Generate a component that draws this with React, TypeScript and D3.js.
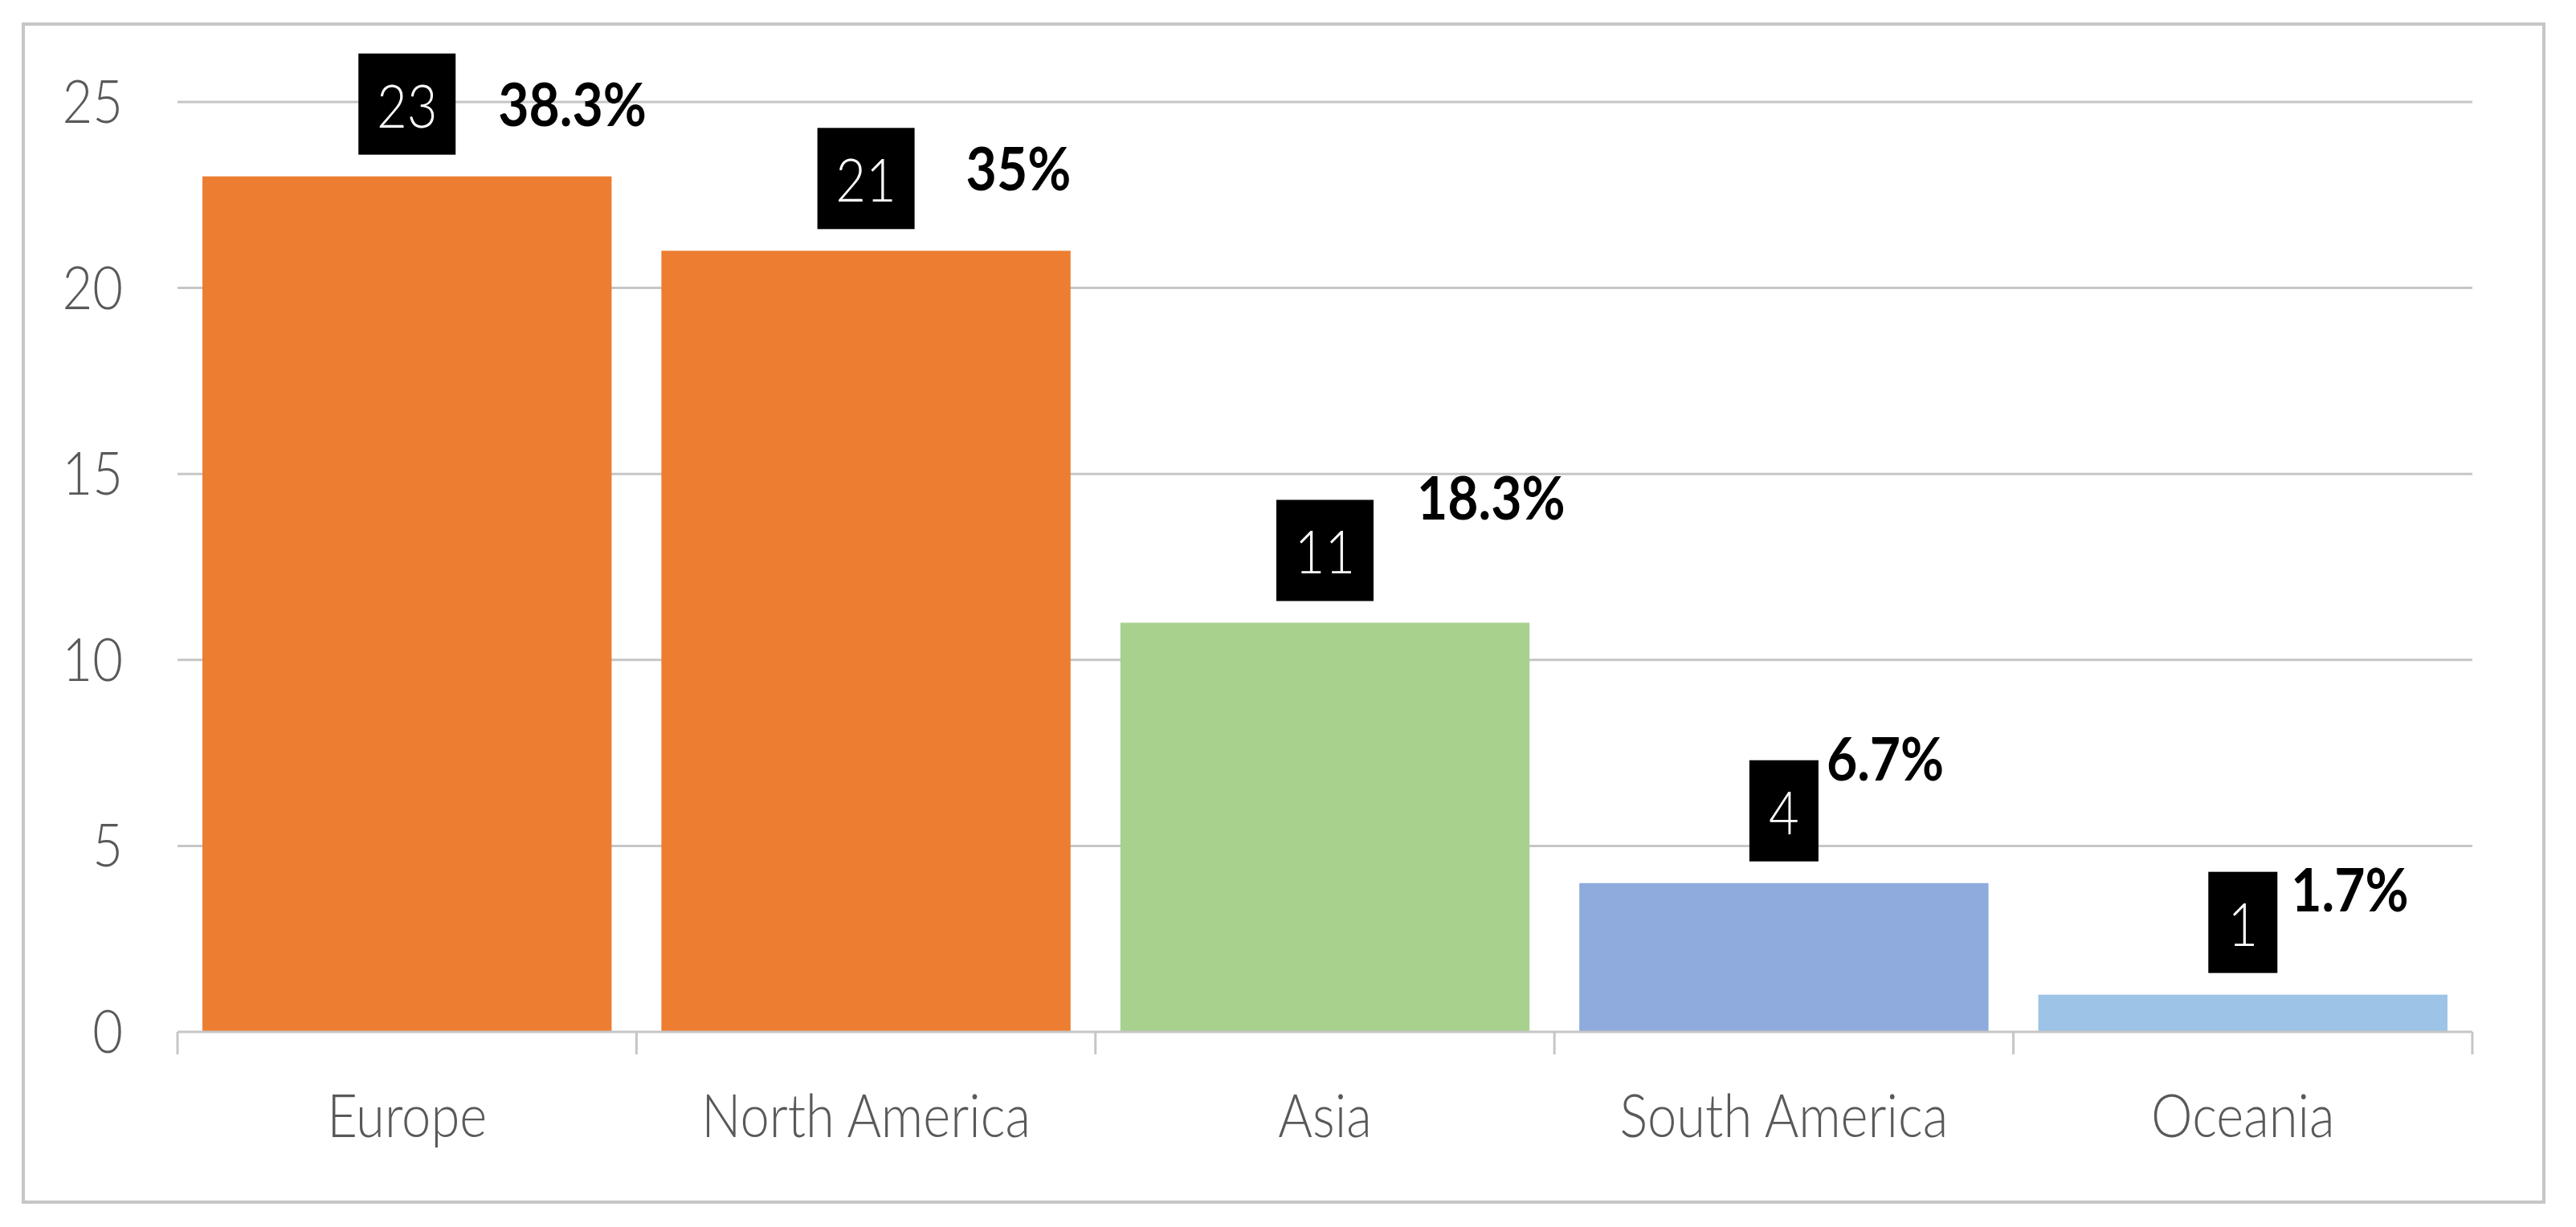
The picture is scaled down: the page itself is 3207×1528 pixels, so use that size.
import React, { useEffect, useRef } from "react";
import * as d3 from "d3";

// data
const regions = ["Europe", "North America", "Asia", "South America", "Oceania"];
const counts = [23, 21, 11, 4, 1];
const shares = ["38.3%", "35%", "18.3%", "6.7%", "1.7%"];
const barColors = ["#ED7D31", "#ED7D31", "#A9D18E", "#8FAADC", "#9DC3E6"];
const yTicks = [0, 5, 10, 15, 20, 25];

// the % labels were dragged around by hand in the original, offsets from the value box
const shareOffsets = [
  [53, 0],
  [64, -12],
  [54, -65],
  [10, -65],
  [17, -41],
];

const W = 3207;
const H = 1528;
const SX = 0.88; // the source text is a bit narrow
const LIGHT = "Lato, 'Open Sans', sans-serif";

export default function App() {
  const ref = useRef<SVGSVGElement>(null);

  useEffect(() => {
    const svg = d3.select(ref.current);
    svg.selectAll("*").remove();

    const left = 221,
      right = 3078,
      top = 127,
      bottom = 1285;

    const x = d3
      .scaleBand()
      .domain(regions)
      .range([left, right])
      .paddingInner(0.1085)
      .paddingOuter(0.0543);

    const y = d3.scaleLinear().domain([0, 25]).range([bottom, top]);

    svg.append("rect").attr("width", W).attr("height", H).attr("fill", "#fff");

    // outer frame
    svg
      .append("rect")
      .attr("x", 29)
      .attr("y", 30)
      .attr("width", 3167 - 29)
      .attr("height", 1497 - 30)
      .attr("fill", "none")
      .attr("stroke", "#C6C6C6")
      .attr("stroke-width", 4);

    // gridlines
    svg
      .append("g")
      .selectAll("line")
      .data(yTicks.filter((t) => t > 0))
      .join("line")
      .attr("x1", left)
      .attr("x2", right)
      .attr("y1", (d) => y(d))
      .attr("y2", (d) => y(d))
      .attr("stroke", "#C6C6C6")
      .attr("stroke-width", 3);

    // y labels
    svg
      .append("g")
      .selectAll("text")
      .data(yTicks)
      .join("text")
      .attr("transform", (d) => `translate(153,${y(d) + 26}) scale(${SX},1)`)
      .attr("text-anchor", "end")
      .attr("font-family", LIGHT)
      .attr("font-weight", 300)
      .attr("font-size", 74)
      .attr("fill", "#595959")
      .text((d) => d);

    // bars
    svg
      .append("g")
      .selectAll("rect")
      .data(counts)
      .join("rect")
      .attr("x", (d, i) => x(regions[i])!)
      .attr("y", (d) => y(d))
      .attr("width", x.bandwidth())
      .attr("height", (d) => bottom - y(d))
      .attr("fill", (d, i) => barColors[i]);

    // x axis line + ticks between categories
    svg
      .append("line")
      .attr("x1", left)
      .attr("x2", right)
      .attr("y1", bottom)
      .attr("y2", bottom)
      .attr("stroke", "#C6C6C6")
      .attr("stroke-width", 3);

    const step = x.step();
    svg
      .append("g")
      .selectAll("line")
      .data(d3.range(regions.length + 1))
      .join("line")
      .attr("x1", (i) => left + i * step)
      .attr("x2", (i) => left + i * step)
      .attr("y1", bottom)
      .attr("y2", bottom + 28)
      .attr("stroke", "#C6C6C6")
      .attr("stroke-width", 3);

    // category labels
    svg
      .append("g")
      .selectAll("text")
      .data(regions)
      .join("text")
      .attr("transform", (d) => `translate(${x(d)! + x.bandwidth() / 2},1416) scale(${SX},1)`)
      .attr("text-anchor", "middle")
      .attr("font-family", LIGHT)
      .attr("font-weight", 300)
      .attr("font-size", 74)
      .attr("fill", "#595959")
      .text((d) => d);

    // value boxes and share labels
    counts.forEach((v, i) => {
      const cx = x(regions[i])! + x.bandwidth() / 2;
      const label = String(v);
      const bw = label.length * 35 + 51;
      const bh = 126;
      const by = y(v) - 27 - bh;

      svg
        .append("rect")
        .attr("x", cx - bw / 2)
        .attr("y", by)
        .attr("width", bw)
        .attr("height", bh)
        .attr("fill", "#000");

      svg
        .append("text")
        .attr("transform", `translate(${cx},${by + 92}) scale(${SX},1)`)
        .attr("text-anchor", "middle")
        .attr("font-family", LIGHT)
        .attr("font-weight", 300)
        .attr("font-size", 74)
        .attr("fill", "#fff")
        .text(label);

      const [dx, dy] = shareOffsets[i];
      svg
        .append("text")
        .attr("transform", `translate(${cx + bw / 2 + dx},${by + bh / 2 + dy + 27}) scale(${SX},1)`)
        .attr("text-anchor", "start")
        .attr("font-family", LIGHT)
        .attr("font-weight", 700)
        .attr("font-size", 75)
        .attr("fill", "#000")
        .text(shares[i]);
    });
  }, []);

  return (
    <svg
      ref={ref}
      width={W}
      height={H}
      style={{ position: "absolute", left: 0, top: 0, display: "block" }}
    />
  );
}
